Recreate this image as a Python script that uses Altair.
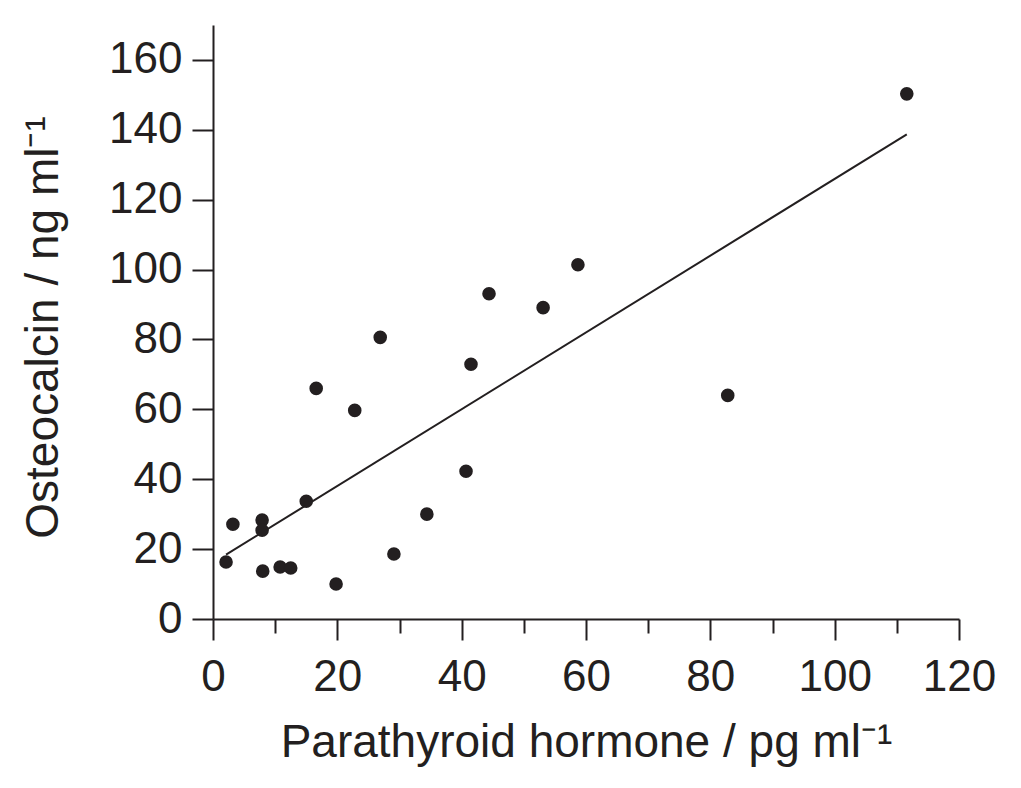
import altair as alt
import pandas as pd

# Parathyroid hormone (pg/ml) and osteocalcin (ng/ml), one pair per subject
pth = [2.1, 3.2, 7.9, 7.9, 8.0, 10.8, 12.5, 15.0, 16.6, 19.8, 22.8,
       26.9, 29.1, 34.4, 40.7, 41.5, 44.4, 53.1, 58.7, 82.8, 111.6]
osteocalcin = [16.3, 27.1, 28.3, 25.4, 13.7, 14.9, 14.6, 33.7, 66.0, 10.0, 59.7,
               80.6, 18.6, 30.0, 42.3, 72.9, 93.1, 89.1, 101.4, 64.0, 150.3]

# Tick positions: every 10 units, labelled every 20
x_ticks = list(range(0, 121, 10))
y_ticks = list(range(0, 161, 10))

df = pd.DataFrame({"pth": pth, "oc": osteocalcin})

INK = "#231f20"
FONT = "Liberation Sans"
FS = 44
TITLE_FS = 46

tick_len = {"condition": {"test": "datum.value % 20 === 0", "value": 21}, "value": 14}
major_only = "datum.value % 20 === 0 ? datum.label : ''"

x_enc = alt.X(
    "pth:Q",
    scale=alt.Scale(domain=[0, 120], nice=False, zero=True),
    axis=alt.Axis(
        values=x_ticks,
        labelExpr=major_only,
        labelFlush=False,
        tickSize=tick_len,
        title="Parathyroid hormone / pg ml⁻¹",
        titleX=373, titleY=137, titleBaseline="alphabetic",
        labelPadding=15,
    ),
)
y_enc = alt.Y(
    "oc:Q",
    scale=alt.Scale(domain=[0, 170], nice=False, zero=True),
    axis=alt.Axis(
        values=y_ticks,
        labelExpr=major_only,
        labelFlush=False,
        tickSize=tick_len,
        title="Osteocalcin / ng ml⁻¹",
        titleAngle=-90, titleX=-156, titleY=302,
        titleBaseline="alphabetic", titleAlign="center",
        labelPadding=10,
    ),
)

points = alt.Chart(df).mark_circle(size=185, color=INK, opacity=1).encode(x=x_enc, y=y_enc)

fit = (
    alt.Chart(df)
    .transform_regression("pth", "oc")
    .mark_line(color=INK, strokeWidth=2)
    .encode(x="pth:Q", y="oc:Q")
)

chart = (
    alt.layer(fit, points)
    .properties(
        width=746,
        height=594,
        autosize=alt.AutoSizeParams(type="none"),
        padding={"left": 213, "top": 25, "right": 62, "bottom": 169},
        background="white",
    )
    .configure_view(stroke=None)
    .configure_axis(
        grid=False,
        domainColor=INK, domainWidth=2,
        tickColor=INK, tickWidth=2,
        labelFont=FONT, labelFontSize=FS, labelColor=INK,
        titleFont=FONT, titleFontSize=TITLE_FS, titleColor=INK, titleFontWeight="normal",
        labelOverlap=False,
    )
)

chart.save("out.html", embed_options={"renderer": "svg", "actions": False})
